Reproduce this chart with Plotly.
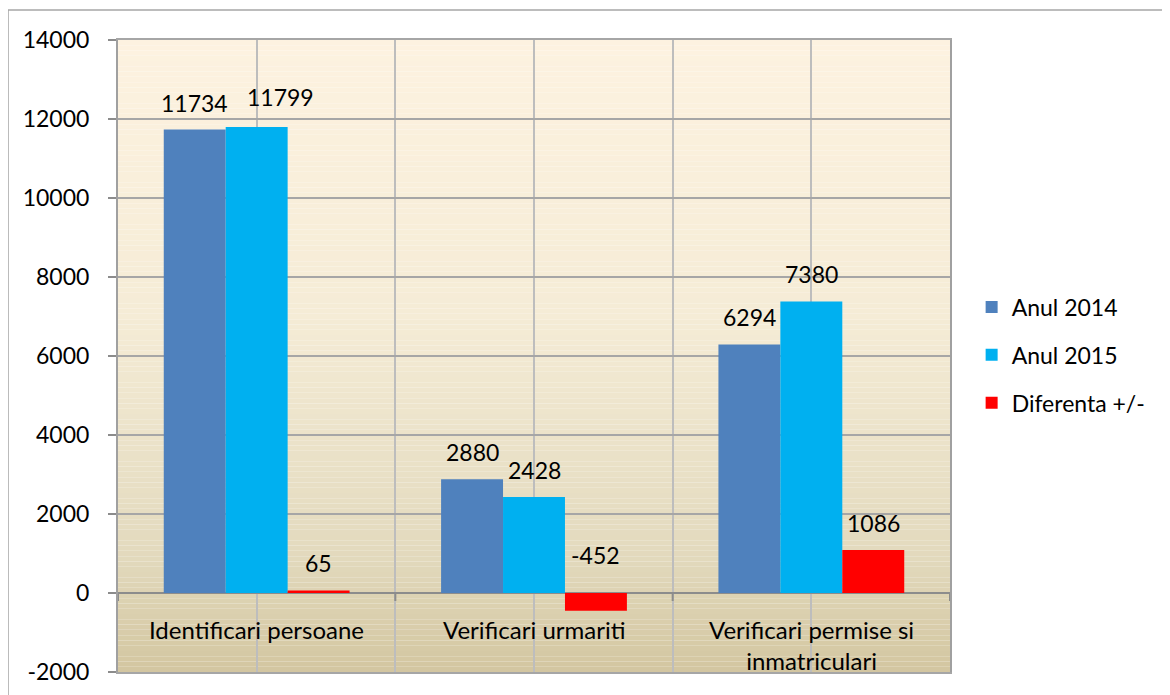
import plotly.graph_objects as go
import numpy as np

categories = ["Identificari persoane", "Verificari urmariti", "Verificari permise si<br>inmatriculari"]
anul_2014 = [11734, 2880, 6294]
anul_2015 = [11799, 2428, 7380]
diferenta = [65, -452, 1086]
series_names = ["Anul 2014", "Anul 2015", "Diferenta +/-"]
series_colors = ["#4F81BD", "#00B0F0", "#FF0000"]
y_ticks = [-2000, 0, 2000, 4000, 6000, 8000, 10000, 12000, 14000]
y_tick_labels = ["-2000", "0", "2000", "4000", "6000", "8000", "10000", "12000", "14000"]

FONT = "Lato"
FS_NUM = 23
FS_CAT = 24
FS_TICK = 23
FS_LEG = 23
x_pos = list(range(len(categories)))

fig = go.Figure()
for name, vals, col in zip(series_names, [anul_2014, anul_2015, diferenta], series_colors):
    fig.add_trace(go.Bar(x=x_pos, y=vals, name=name, marker=dict(color=col, line=dict(width=0)),
                         legendgroup=name, hoverinfo="skip"))

# background gradient bands
stops_y = [14000, 7040, 1090, -2000]
stops_c = [(253, 242, 224), (245, 236, 214), (227, 218, 190), (211, 198, 160)]
n = 120
edges = np.linspace(14000, -2000, n + 1)
shapes = []
for i in range(n):
    mid = (edges[i] + edges[i + 1]) / 2
    c = [np.interp(-mid, [-s for s in stops_y], [cc[k] for cc in stops_c]) for k in range(3)]
    shapes.append(dict(type="rect", xref="paper", yref="y", x0=0, x1=1, y0=edges[i + 1], y1=edges[i],
                       fillcolor="rgb(%d,%d,%d)" % tuple(int(round(v)) for v in c),
                       line=dict(width=0), layer="below"))

# small ticks below zero line at category boundaries
for b in np.arange(-0.5, len(categories), 1.0):
    shapes.append(dict(type="line", xref="x", yref="y", x0=b, x1=b, ysizemode="pixel", yanchor=0,
                       y0=0, y1=-8, line=dict(color="#8C8C8C", width=2)))

# outer frame
shapes.append(dict(type="rect", xref="paper", yref="paper", x0=-0.1322, x1=1.3, y0=-0.1, y1=1.0475,
                   line=dict(color="#A6A6A6", width=1.5), fillcolor="rgba(0,0,0,0)", layer="above"))

annotations = []
offsets = [-1, 0, 1]
bw = (1 - 0.33) / 3
label_xshift = {(1, 0): 24}
for si, vals in enumerate([anul_2014, anul_2015, diferenta]):
    for ci, v in enumerate(vals):
        annotations.append(dict(x=x_pos[ci] + offsets[si] * bw, y=max(v, 0), xref="x", yref="y",
                                text=str(v), showarrow=False, yanchor="middle",
                                yshift=(27 + (3 if (si, ci) in label_xshift else 0)) if v >= 0 else 38,
                                xshift=label_xshift.get((si, ci), 0),
                                font=dict(family=FONT, size=FS_NUM, color="#000000")))
for ci, cat in enumerate(categories):
    annotations.append(dict(x=x_pos[ci], y=0, xref="x", yref="y", text=cat, showarrow=False,
                            yanchor="top", yshift=-20, align="center",
                            font=dict(family=FONT, size=FS_CAT, color="#000000")))

fig.update_layout(
    width=1162, height=687,
    margin=dict(l=110, r=220, t=32, b=23),
    paper_bgcolor="white", plot_bgcolor="rgba(0,0,0,0)",
    barmode="group", bargap=0.33, bargroupgap=0,
    font=dict(family=FONT, size=FS_NUM, color="#000000"),
    showlegend=True,
    legend=dict(x=1.026, xanchor="left", y=0.5016, yanchor="middle",
                font=dict(family=FONT, size=FS_LEG), tracegroupgap=15, itemwidth=30,
                bgcolor="rgba(0,0,0,0)"),
    shapes=shapes, annotations=annotations,
)
fig.update_xaxes(range=[-0.5, len(categories) - 0.5], tickvals=list(np.arange(-0.5, len(categories), 0.5)),
                 showticklabels=False, ticks="", showgrid=True, gridcolor="#BDBDBD", gridwidth=1.5,
                 showline=True, mirror=True, linecolor="#A6A6A6", linewidth=2, zeroline=False,
                 automargin=False)
fig.update_yaxes(range=[-2000, 14000], tickvals=y_ticks, ticktext=y_tick_labels, ticks="outside", ticklen=8,
                 tickcolor="#8C8C8C", tickwidth=2, showgrid=True, gridcolor="#A6A6A6", gridwidth=1.5,
                 showline=True, mirror=True, linecolor="#A0A0A0", linewidth=2,
                 zeroline=True, zerolinecolor="#8C8C8C", zerolinewidth=2,
                 tickfont=dict(family=FONT, size=FS_TICK, color="#000000"), ticklabelstandoff=14,
                 automargin=False)

fig.write_html("out.html")
